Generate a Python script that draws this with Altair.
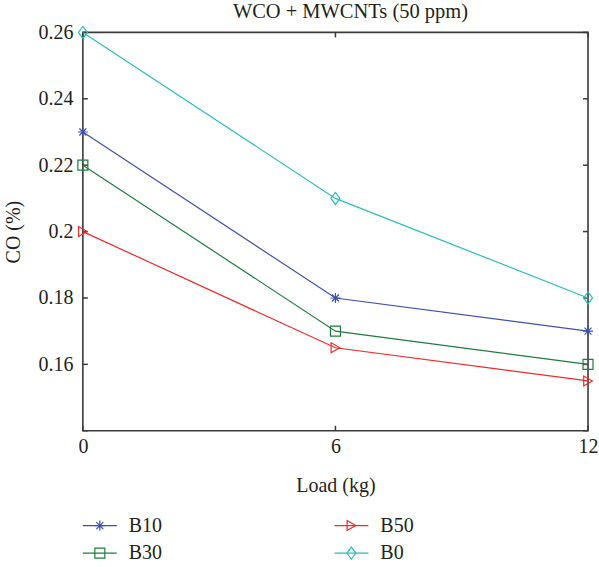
import altair as alt
import pandas as pd

loads = [0, 6, 12]
series_names = ["B10", "B50", "B30", "B0"]
b10 = [0.23, 0.18, 0.17]
b30 = [0.22, 0.17, 0.16]
b50 = [0.20, 0.165, 0.155]
b0 = [0.26, 0.21, 0.18]
y_ticks = [0.14, 0.16, 0.18, 0.20, 0.22, 0.24, 0.26]
y_labels = [0.16, 0.18, 0.20, 0.22, 0.24, 0.26]
x_ticks = [0, 6, 12]

colors = {"B10": "#3f51b0", "B30": "#1e7d3e", "B50": "#f02a2a", "B0": "#2bbcbc"}
shapes = {
    "B10": "M-1,0L1,0M0,-1L0,1M-0.7,-0.7L0.7,0.7M-0.7,0.7L0.7,-0.7",
    "B30": "square",
    "B50": "triangle-right",
    "B0": "M0,-1.2L0.9,0L0,1.2L-0.9,0Z",
}

rows = []
for name, vals in [("B10", b10), ("B30", b30), ("B50", b50), ("B0", b0)]:
    for l, v in zip(loads, vals):
        rows.append({"series": name, "load": l, "co": v})
df = pd.DataFrame(rows)

FONT = "Liberation Serif"
TXT = "#231f20"
W, H = 506, 399

dom = series_names
color_scale = alt.Scale(domain=dom, range=[colors[s] for s in dom])
shape_scale = alt.Scale(domain=dom, range=[shapes[s] for s in dom])

xs = alt.Scale(domain=[0, 12], nice=False)
ys = alt.Scale(domain=[0.14, 0.26], nice=False, zero=False)

base = alt.Chart(df).encode(
    x=alt.X("load:Q", scale=xs,
            axis=alt.Axis(values=x_ticks, title="Load (kg)", grid=False, domain=False,
                          ticks=False, labelPadding=6, titlePadding=19,
                          labelFlush=False)),
    y=alt.Y("co:Q", scale=ys,
            axis=alt.Axis(values=y_labels, title="CO (%)", grid=False, domain=False,
                          ticks=False, labelPadding=10, titlePadding=14, format=".2~f",
                          labelFlush=False)),
    color=alt.Color("series:N", scale=color_scale, legend=None),
)
lines = base.mark_line(strokeWidth=1.2)
points = base.mark_point(filled=False, size=100, strokeWidth=1.2, opacity=1).encode(
    shape=alt.Shape("series:N", scale=shape_scale, legend=None)
)

ydf = pd.DataFrame({"v": y_ticks})
xdf = pd.DataFrame({"v": x_ticks})
tick_color = "#3a3a3a"
lt = alt.Chart(ydf).mark_rule(color=tick_color, strokeWidth=1.5).encode(
    y=alt.Y("v:Q", scale=ys), x=alt.value(0), x2=alt.value(5))
rt = alt.Chart(ydf).mark_rule(color=tick_color, strokeWidth=1.5).encode(
    y=alt.Y("v:Q", scale=ys), x=alt.value(W), x2=alt.value(W - 5))
tt = alt.Chart(xdf).mark_rule(color=tick_color, strokeWidth=1.5).encode(
    x=alt.X("v:Q", scale=xs), y=alt.value(0), y2=alt.value(5))
bt = alt.Chart(xdf).mark_rule(color=tick_color, strokeWidth=1.5).encode(
    x=alt.X("v:Q", scale=xs), y=alt.value(H), y2=alt.value(H - 5))

main = alt.layer(lt, rt, tt, bt, lines, points).properties(
    width=W, height=H,
    title=alt.TitleParams("WCO + MWCNTs (50 ppm)", dx=15, fontWeight="normal",
                          font=FONT, fontSize=20.5, color=TXT, offset=0),
    view=alt.ViewBackground(stroke="#3a3a3a", strokeWidth=1.6),
)

# legend built from marks
ldf = pd.DataFrame({"series": series_names})
lbase = alt.Chart(ldf).transform_window(
    idx="row_number()"
).transform_calculate(
    col="(datum.idx - 1) % 2", row="floor((datum.idx - 1) / 2)"
).encode(
    x=alt.X("col:Q", scale=alt.Scale(domain=[0, 1], range=[17, 269]), axis=None),
    y=alt.Y("row:Q", scale=alt.Scale(domain=[0, 1], range=[14, 41.5]), axis=None),
    color=alt.Color("series:N", scale=color_scale, legend=None),
)
lrule = lbase.mark_rule(strokeWidth=1.2, xOffset=-17, x2Offset=17).encode(
    x2="col:Q")
lpt = lbase.mark_point(filled=False, size=100, strokeWidth=1.2, opacity=1).encode(
    shape=alt.Shape("series:N", scale=shape_scale, legend=None))
ltext = lbase.mark_text(align="left", baseline="middle", dx=29, font=FONT,
                        fontSize=20, color=TXT).encode(
    text="series:N", color=alt.value(TXT))
legend = alt.layer(lrule, lpt, ltext).properties(
    width=W, height=52, view=alt.ViewBackground(stroke="transparent"))

chart = alt.vconcat(main, legend, spacing=14).properties(
    padding={"left": 3, "top": 0, "right": 0, "bottom": 0}
).configure_axis(
    labelFont=FONT, titleFont=FONT, labelFontSize=20, titleFontSize=20,
    titleFontWeight="normal", labelColor=TXT, titleColor=TXT
)

chart.save("out.html", embed_options={"renderer": "svg", "actions": False})
